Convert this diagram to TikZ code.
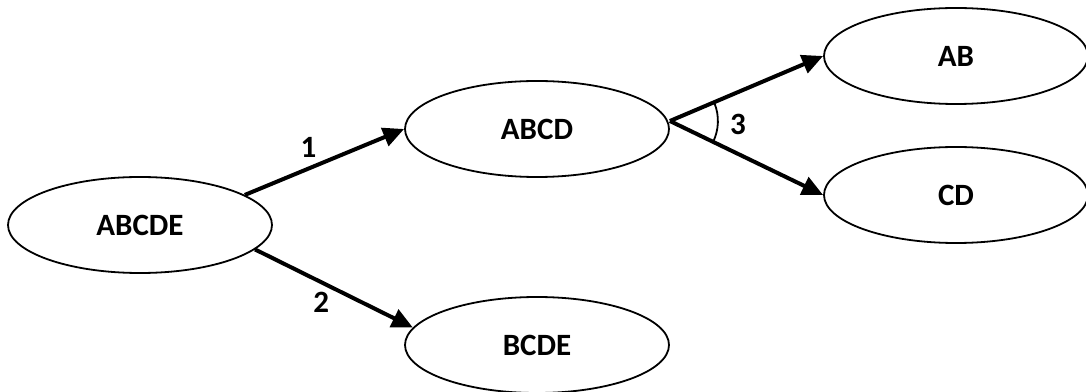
\documentclass[tikz,border=0pt]{standalone}
\usepackage{fontspec}
\setmainfont{Carlito}
\usetikzlibrary{arrows.meta,shapes}
\tikzstyle{setvertex}=[ellipse,draw,line width=1.8pt,minimum width=264pt,minimum height=96pt,inner sep=0pt,font=\fontsize{31}{36}\selectfont\bfseries]
\tikzstyle{edge} = [draw,line width=4pt,-{Triangle[length=21pt,width=19pt]}]
\tikzstyle{weight} = [font=\fontsize{31}{36}\selectfont\bfseries]

\begin{document}
\begin{tikzpicture}[x=1pt,y=1pt]

    \useasboundingbox (0,0) rectangle (1086,391);

     \foreach \x/\y/\name in {140/166/ABCDE, 537/262/ABCD, 537/46/BCDE, 956/335/AB, 956/196/CD}
        \node[setvertex] (\name) at (\x, \y) {\name};

    \foreach \source/ \dest /\weight in {ABCDE.16/ABCD.west/1}
        \path[edge] (\source) -- node[weight, above=6pt, pos=0.4] {\weight} (\dest);

    \foreach \source/ \dest /\weight in {ABCDE.-12/BCDE.172/2}
        \path[edge] (\source) -- node[weight, below=5pt, pos=0.42] {\weight} (\dest);

    \coordinate (split) at ([yshift=8pt]ABCD.east);

    \foreach \dest in {AB.west, CD.west}
        \path[edge] (split) -- (\dest);

    \draw[line width=1.8pt] (split) ++(22:48) arc[start angle=22, end angle=-26, radius=48];
    \node[weight] (angle) at ([xshift=68pt,yshift=-3pt]split) {3};

   \end{tikzpicture}
\end{document}
